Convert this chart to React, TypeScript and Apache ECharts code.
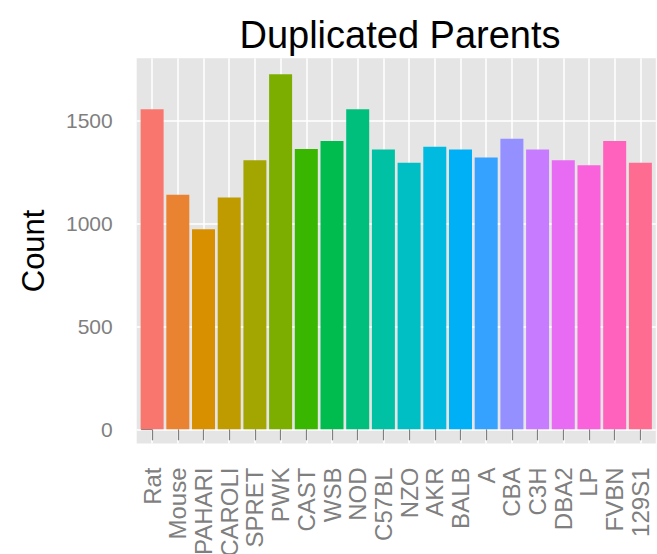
import React, { useEffect, useRef } from "react";
import * as echarts from "echarts";

const categories = [
  "Rat", "Mouse", "PAHARI", "CAROLI", "SPRET", "PWK", "CAST", "WSB", "NOD", "C57BL",
  "NZO", "AKR", "BALB", "A", "CBA", "C3H", "DBA2", "LP", "FVBN", "129S1",
];
const counts = [
  1556, 1140, 972, 1127, 1308, 1725, 1362, 1401, 1556, 1360,
  1295, 1373, 1360, 1321, 1412, 1360, 1308, 1283, 1401, 1295,
];
const yTicks = [0, 500, 1000, 1500];
const palette = [
  "#F8766D", "#EA8331", "#D89000", "#C09B00", "#A3A500", "#7CAE00", "#39B600", "#00BB4E", "#00BF7D", "#00C1A3",
  "#00BFC4", "#00BAE0", "#00B0F6", "#35A2FF", "#9590FF", "#C77CFF", "#E76BF3", "#FA62DB", "#FF62BC", "#FF6C91",
];

export default function App() {
  const ref = useRef<HTMLDivElement>(null);
  useEffect(() => {
    const chart = echarts.init(ref.current!, null, { renderer: "svg" });
    const font = "'Liberation Sans', Arial, Helvetica, sans-serif";
    const idx = categories.map((_, i) => i);
    chart.setOption({
      animation: false,
      backgroundColor: "#ffffff",
      title: {
        text: "Duplicated Parents",
        left: 395,
        top: 11,
        textAlign: "center",
        textStyle: { fontFamily: font, fontSize: 38, fontWeight: "normal", color: "#000000" },
      },
      grid: {
        left: 136.7,
        right: 1.2,
        top: 58.3,
        bottom: 110.5,
        show: true,
        backgroundColor: "#E5E5E5",
        borderWidth: 0,
        outerBoundsMode: "none",
        containLabel: false,
      },
      xAxis: {
        type: "value",
        min: -0.6,
        max: 19.6,
        axisLine: { show: false },
        axisTick: {
          show: true,
          length: 11,
          customValues: idx,
          lineStyle: { color: "#7F7F7F", width: 1.2 },
        },
        axisLabel: {
          customValues: idx,
          formatter: (v: number) => categories[Math.round(v)],
          rotate: 90,
          margin: 24,
          fontSize: 24,
          color: "#7F7F7F",
          fontFamily: font,
        },
        splitLine: { show: true, lineStyle: { color: "#ffffff", width: 1.5 } },
      },
      yAxis: {
        type: "value",
        min: -69,
        max: 1803,
        name: "Count",
        nameLocation: "middle",
        nameGap: 88,
        nameTextStyle: { fontFamily: font, fontSize: 31, color: "#000000" },
        axisLine: { show: false },
        axisTick: {
          show: true,
          length: 11,
          customValues: yTicks,
          lineStyle: { color: "#7F7F7F", width: 1.2 },
        },
        axisLabel: {
          customValues: yTicks,
          formatter: (v: number) => String(v),
          margin: 24,
          fontSize: 21,
          color: "#7F7F7F",
          fontFamily: font,
        },
        splitLine: { show: true, lineStyle: { color: "#ffffff", width: 1.5 } },
      },
      series: [
        {
          type: "bar",
          barWidth: 23,
          data: counts.map((v, i) => ({ value: [i, v], itemStyle: { color: palette[i] } })),
        },
      ],
    });
    return () => chart.dispose();
  }, []);
  return (
    <div
      ref={ref}
      style={{ position: "fixed", left: 0, top: 0, width: 657, height: 554, background: "#fff" }}
    />
  );
}
